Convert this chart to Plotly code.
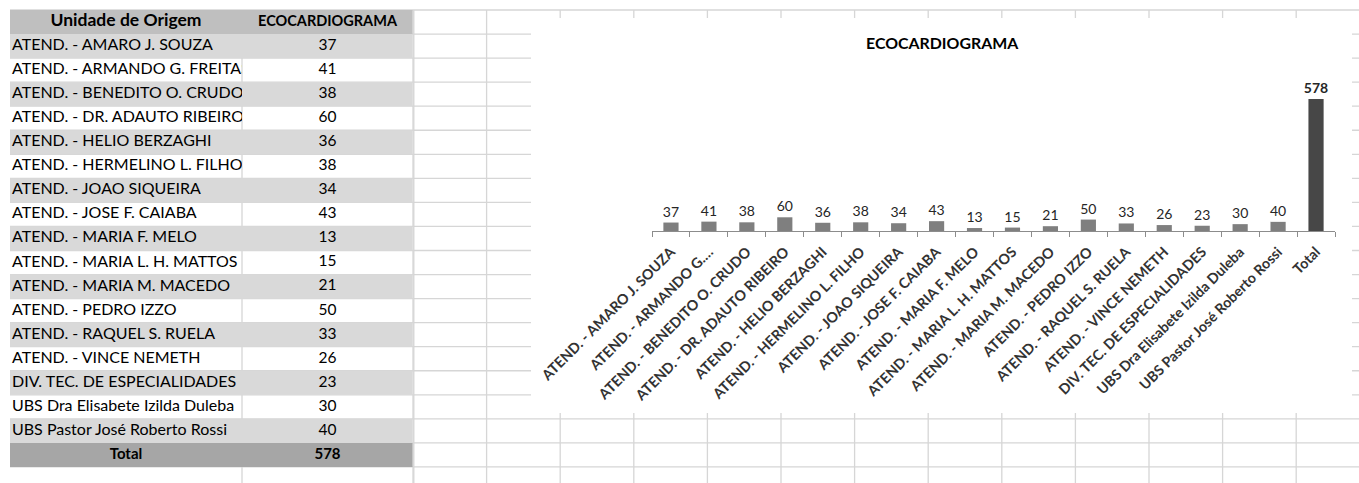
import plotly.graph_objects as go

# ---- data -------------------------------------------------------------
UNITS = [
    "ATEND. - AMARO J. SOUZA",
    "ATEND. - ARMANDO G. FREITAS",
    "ATEND. - BENEDITO O. CRUDO",
    "ATEND. - DR. ADAUTO RIBEIRO",
    "ATEND. - HELIO BERZAGHI",
    "ATEND. - HERMELINO L. FILHO",
    "ATEND. - JOAO SIQUEIRA",
    "ATEND. - JOSE F. CAIABA",
    "ATEND. - MARIA F. MELO",
    "ATEND. - MARIA L. H. MATTOS",
    "ATEND. - MARIA M. MACEDO",
    "ATEND. - PEDRO IZZO",
    "ATEND. - RAQUEL S. RUELA",
    "ATEND. - VINCE NEMETH",
    "DIV. TEC. DE ESPECIALIDADES",
    "UBS Dra Elisabete Izilda Duleba",
    "UBS Pastor José Roberto Rossi",
]
EXAMS = [37, 41, 38, 60, 36, 38, 34, 43, 13, 15, 21, 50, 33, 26, 23, 30, 40]
TOTAL = 578
AXIS_LABELS = [
    "ATEND. - AMARO J. SOUZA",
    "ATEND. - ARMANDO G.…",
    "ATEND. - BENEDITO O. CRUDO",
    "ATEND. - DR. ADAUTO RIBEIRO",
    "ATEND. - HELIO BERZAGHI",
    "ATEND. - HERMELINO L. FILHO",
    "ATEND. - JOAO SIQUEIRA",
    "ATEND. - JOSE F. CAIABA",
    "ATEND. - MARIA F. MELO",
    "ATEND. - MARIA L. H. MATTOS",
    "ATEND. - MARIA M. MACEDO",
    "ATEND. - PEDRO IZZO",
    "ATEND. - RAQUEL S. RUELA",
    "ATEND. - VINCE NEMETH",
    "DIV. TEC. DE ESPECIALIDADES",
    "UBS Dra Elisabete Izilda Duleba",
    "UBS Pastor José Roberto Rossi",
    "Total",
]
HEADER = ["Unidade de Origem", "ECOCARDIOGRAMA"]
TITLE = "ECOCARDIOGRAMA"

# ---- page geometry (pixels) ------------------------------------------
W, H = 1359, 483
FONT = "Lato"
GRID = "#d6d6d6"
ROW0, ROW_H = 10.0, 24.05
COL_A0, COL_B0, COL_B1 = 10.0, 242.0, 413.0
COL_STEP = 73.6
N_ROWS = len(UNITS) + 2          # header + units + total


def px(x):
    return x / W


def py(y):
    return 1 - y / H


shapes = []


def line(x0, y0, x1, y1, color=GRID, width=1.3):
    shapes.append(dict(type="line", xref="paper", yref="paper",
                       x0=px(x0), y0=py(y0), x1=px(x1), y1=py(y1),
                       line=dict(color=color, width=width), layer="below"))


def rect(x0, y0, x1, y1, fill):
    shapes.append(dict(type="rect", xref="paper", yref="paper",
                       x0=px(x0), y0=py(y0), x1=px(x1), y1=py(y1),
                       fillcolor=fill, line=dict(width=0), layer="below"))


# sheet gridlines
k = 0
while ROW0 + ROW_H * k <= H:
    yk = ROW0 + ROW_H * k
    line(COL_A0, yk, W, yk)
    k += 1
col_x = [COL_B0, COL_B1]
x = COL_B1 + COL_STEP
while x < W:
    col_x.append(x)
    x += COL_STEP
for cx in col_x:
    line(cx, ROW0, cx, H)

# table fills
for r in range(N_ROWS):
    top, bot = ROW0 + ROW_H * r, ROW0 + ROW_H * (r + 1)
    if r == 0:
        rect(COL_A0, top, COL_B1 - 0.5, bot, "#bfbfbf")
    elif r == N_ROWS - 1:
        rect(COL_A0, top, COL_B1 - 0.5, bot, "#a6a6a6")
    elif r % 2 == 1:
        rect(COL_A0, top, COL_B1 - 0.5, bot, "#d9d9d9")
line(COL_B1 + 0.8, ROW0, COL_B1 + 0.8, H)

# chart object area (covers the sheet grid)
CH_X0, CH_X1, CH_Y0, CH_Y1 = 531, 1352, 18, 413
rect(CH_X0, CH_Y0, CH_X1, CH_Y1, "white")

fig = go.Figure()

# ---- table cells --------------------------------------------------------
rows_idx = list(range(1, len(UNITS) + 1))
tbl_y = dict(domain=[py(ROW0 + ROW_H * N_ROWS), py(ROW0)],
             range=[N_ROWS - 0.5, -0.5], visible=False, fixedrange=True)
col_a_w = COL_B0 - COL_A0
col_b_w = COL_B1 - COL_B0


def cell_text(xs, ys, texts, size, axis, pos="middle center"):
    fig.add_trace(go.Scatter(
        x=xs, y=ys, text=texts, mode="text", textposition=pos,
        cliponaxis=True,
        textfont=dict(family=FONT, size=size, color="#000000"),
        xaxis=axis, yaxis="y2", hoverinfo="skip", showlegend=False))


cell_text([2] * len(UNITS), rows_idx, UNITS, 16, "x2", "middle right")
cell_text([col_a_w / 2], [0], ["<b>%s</b>" % HEADER[0]], 17.5, "x2")
cell_text([col_a_w / 2], [N_ROWS - 1], ["<b>Total</b>"], 15, "x2")
cell_text([col_b_w / 2] * len(EXAMS), rows_idx, [str(v) for v in EXAMS], 15.5, "x3")
cell_text([col_b_w / 2], [0], ["<b>%s</b>" % HEADER[1]], 14.5, "x3")
cell_text([col_b_w / 2], [N_ROWS - 1], ["<b>%d</b>" % TOTAL], 15, "x3")

# ---- bar chart ----------------------------------------------------------
bar_vals = EXAMS + [TOTAL]
bar_text = [str(v) for v in EXAMS] + ["<b>%d</b>" % TOTAL]
bar_colors = ["#7f7f7f"] * len(EXAMS) + ["#474747"]
fig.add_trace(go.Bar(
    x=AXIS_LABELS, y=bar_vals, text=bar_text, textposition="outside",
    constraintext="none",
    textfont=dict(family=FONT, size=14, color="#262626"),
    marker=dict(color=bar_colors, line=dict(width=0)),
    cliponaxis=False, hoverinfo="skip", showlegend=False))

AX_L, AX_R, AX_Y, AX_TOP = 652, 1335, 231, 71

fig.update_layout(
    width=W, height=H,
    margin=dict(l=0, r=0, t=0, b=0, autoexpand=False),
    paper_bgcolor="white", plot_bgcolor="rgba(0,0,0,0)",
    bargap=0.6,
    font=dict(family=FONT),
    shapes=shapes,
    xaxis=dict(domain=[px(AX_L), px(AX_R)], range=[-0.5, len(AXIS_LABELS) - 0.5],
               type="category", showline=True, linecolor="#8c8c8c", linewidth=1,
               ticks="outside", tickson="boundaries", ticklen=5,
               tickcolor="#8c8c8c", tickangle=-45, showgrid=False,
               automargin=False, ticklabelstandoff=6,
               tickfont=dict(family=FONT, size=14.3, color="#333333", weight="bold"),
               fixedrange=True),
    yaxis=dict(domain=[py(AX_Y), py(AX_TOP)], range=[0, 700], visible=False,
               showgrid=False, zeroline=False, fixedrange=True, automargin=False),
    xaxis2=dict(domain=[px(COL_A0), px(COL_B0)], range=[0, col_a_w],
                visible=False, fixedrange=True, anchor="y2", automargin=False),
    xaxis3=dict(domain=[px(COL_B0), px(COL_B1)], range=[0, col_b_w],
                visible=False, fixedrange=True, anchor="y2", automargin=False),
    yaxis2=dict(anchor="x2", automargin=False, **tbl_y),
    annotations=[dict(text="<b>%s</b>" % TITLE, xref="paper", yref="paper",
                      x=px(942), y=py(43), xanchor="center", yanchor="middle",
                      showarrow=False,
                      font=dict(family=FONT, size=15.9, color="#000000"))],
)

fig.write_html("out.html")
